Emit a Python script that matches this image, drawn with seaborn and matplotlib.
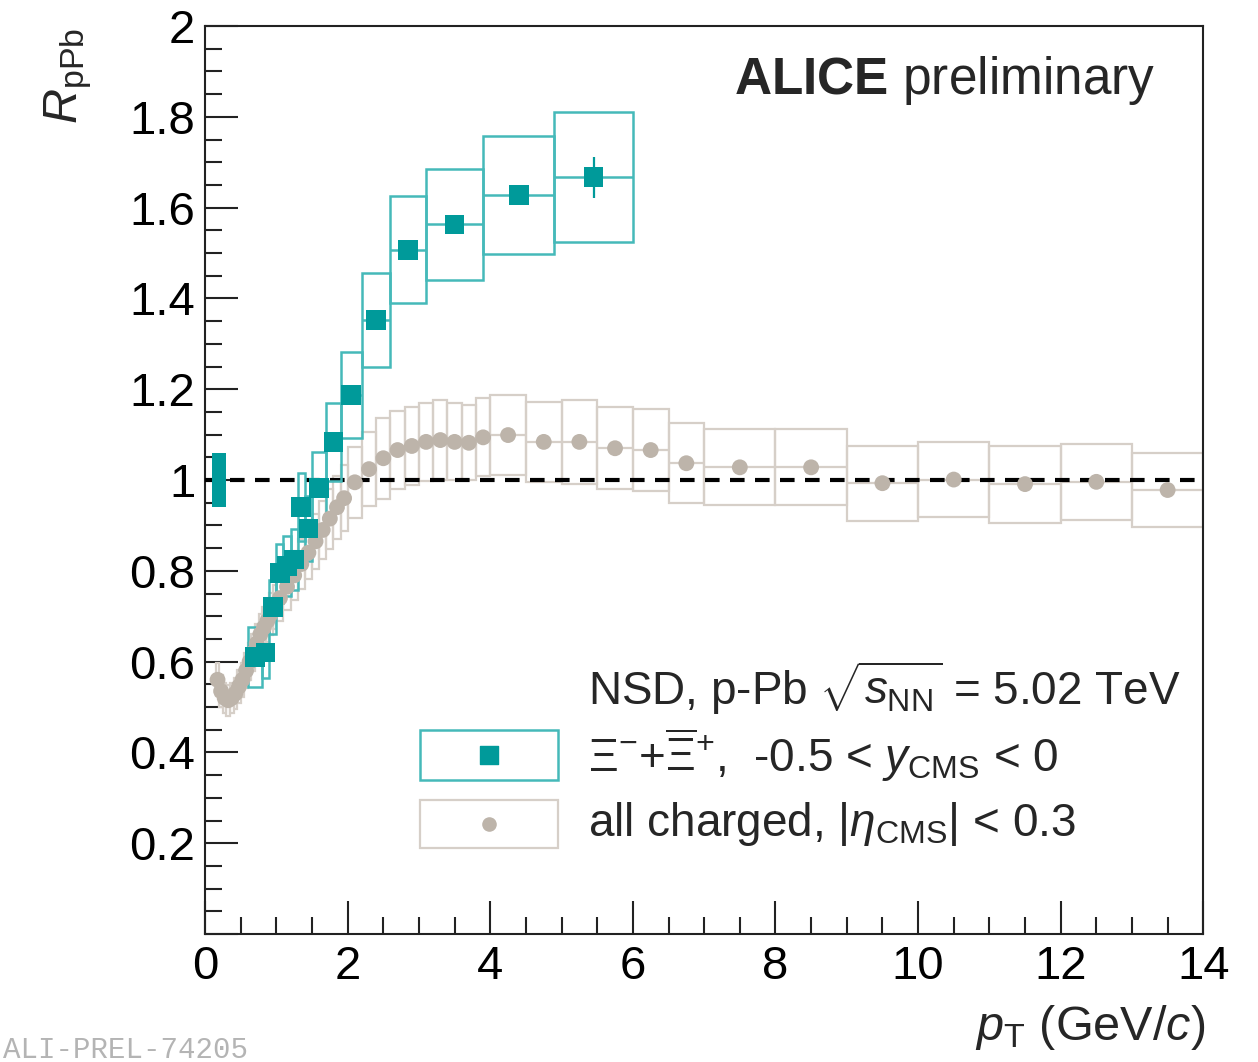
import numpy as np
import pandas as pd
import matplotlib
matplotlib.use("Agg")
import matplotlib.pyplot as plt
import seaborn as sns
from matplotlib.ticker import MultipleLocator, FixedLocator
from matplotlib.patches import Rectangle

# ---------------- data ----------------
# Xi^- + anti-Xi^+
xi_pt = [0.7, 0.85, 0.95, 1.05, 1.15, 1.25, 1.35, 1.45, 1.6, 1.8, 2.05, 2.4, 2.85, 3.5, 4.4, 5.45]
xi_width = [0.2, 0.1, 0.1, 0.1, 0.1, 0.1, 0.1, 0.1, 0.2, 0.2, 0.3, 0.4, 0.5, 0.8, 1.0, 1.1]
xi_r = [0.61, 0.62, 0.72, 0.795, 0.81, 0.825, 0.94, 0.893, 0.982, 1.084, 1.187, 1.352, 1.507, 1.563, 1.628, 1.667]
xi_stat = [0.02, 0.015, 0.015, 0.012, 0.012, 0.012, 0.012, 0.012, 0.012, 0.012, 0.012, 0.012, 0.014, 0.015, 0.02, 0.045]
xi_syst = [0.066, 0.055, 0.06, 0.065, 0.066, 0.067, 0.075, 0.072, 0.08, 0.086, 0.095, 0.104, 0.118, 0.122, 0.13, 0.143]

# all charged
ch_pt = [0.175, 0.225, 0.275, 0.325, 0.375, 0.425, 0.475, 0.525, 0.575, 0.625,
         0.675, 0.725, 0.775, 0.825, 0.875, 0.925, 0.975,
         1.05, 1.15, 1.25, 1.35, 1.45, 1.55, 1.65, 1.75, 1.85, 1.95,
         2.1, 2.3, 2.5, 2.7, 2.9, 3.1, 3.3, 3.5, 3.7, 3.9,
         4.25, 4.75, 5.25, 5.75, 6.25, 6.75,
         7.5, 8.5, 9.5, 10.5, 11.5, 12.5, 13.5]
ch_width = [0.05] * 17 + [0.1] * 10 + [0.2] * 10 + [0.5] * 6 + [1.0] * 7
ch_r = [0.56, 0.535, 0.52, 0.515, 0.52, 0.53, 0.545, 0.56, 0.58, 0.60,
        0.62, 0.64, 0.66, 0.675, 0.69, 0.705, 0.72,
        0.74, 0.765, 0.79, 0.815, 0.84, 0.865, 0.89, 0.915, 0.94, 0.96,
        0.995, 1.024, 1.048, 1.066, 1.075, 1.084, 1.088, 1.084, 1.082, 1.094,
        1.099, 1.084, 1.084, 1.07, 1.066, 1.037,
        1.028, 1.028, 0.993, 1.001, 0.991, 0.996, 0.978]
ch_syst = [0.036, 0.035, 0.034, 0.034, 0.034, 0.035, 0.036, 0.037, 0.038, 0.040,
           0.041, 0.042, 0.044, 0.045, 0.046, 0.047, 0.048,
           0.050, 0.052, 0.054, 0.056, 0.058, 0.060, 0.063, 0.066, 0.069, 0.072,
           0.078, 0.082, 0.089, 0.086, 0.086, 0.086, 0.088, 0.085, 0.083, 0.086,
           0.088, 0.088, 0.092, 0.090, 0.090, 0.088,
           0.084, 0.084, 0.083, 0.082, 0.085, 0.084, 0.082]

norm_pt = [0.2]
norm_width = [0.2]
norm_unc = [0.06]

x_ticks = [0, 2, 4, 6, 8, 10, 12, 14]
y_ticks = [0, 0.2, 0.4, 0.6, 0.8, 1.0, 1.2, 1.4, 1.6, 1.8, 2.0]
y_ticklabels = ["", "0.2", "0.4", "0.6", "0.8", "1", "1.2", "1.4", "1.6", "1.8", "2"]

# ---------------- style ----------------
sns.set_theme(style="ticks")
plt.rcParams["font.family"] = ["Liberation Sans", "DejaVu Sans"]
plt.rcParams["mathtext.fontset"] = "custom"
plt.rcParams["mathtext.rm"] = "Liberation Sans"
plt.rcParams["mathtext.it"] = "Liberation Sans:italic"
plt.rcParams["mathtext.bf"] = "Liberation Sans:bold"

TEAL = "#009a9a"
TEAL_BOX = "#45b9b9"
GREY = "#bdb4aa"
GREY_BOX = "#d6cfc8"

fig = plt.figure(figsize=(12.58, 10.62), dpi=100)
ax = fig.add_axes([0.163, 0.1205, 0.7935, 0.855])

df_xi = pd.DataFrame({"pt": xi_pt, "r": xi_r, "w": xi_width, "stat": xi_stat, "syst": xi_syst})
df_ch = pd.DataFrame({"pt": ch_pt, "r": ch_r, "w": ch_width, "syst": ch_syst})

# charged: syst boxes
ax.bar(df_ch["pt"], 2 * df_ch["syst"], width=df_ch["w"], bottom=df_ch["r"] - df_ch["syst"],
       fill=False, edgecolor=GREY_BOX, linewidth=1.6, zorder=2)
ax.errorbar(df_ch["pt"], df_ch["r"], xerr=df_ch["w"] / 2, fmt="none",
            ecolor=GREY_BOX, elinewidth=1.6, zorder=2)

# dashed unity line
ax.axhline(1.0, color="black", linestyle=(0, (3.5, 2.5)), linewidth=3.0, zorder=3)

# Xi: syst boxes
ax.bar(df_xi["pt"], 2 * df_xi["syst"], width=df_xi["w"], bottom=df_xi["r"] - df_xi["syst"],
       fill=False, edgecolor=TEAL_BOX, linewidth=1.8, zorder=4)
ax.errorbar(df_xi["pt"], df_xi["r"], xerr=df_xi["w"] / 2, fmt="none",
            ecolor=TEAL_BOX, elinewidth=1.8, zorder=4)
ax.errorbar(df_xi["pt"], df_xi["r"], yerr=df_xi["stat"], fmt="none",
            ecolor=TEAL, elinewidth=1.6, zorder=5)

# normalisation box
ax.bar(norm_pt, [2 * u for u in norm_unc], width=norm_width, bottom=[1 - u for u in norm_unc],
       color=TEAL, edgecolor="none", zorder=4)

# markers
sns.scatterplot(data=df_ch, x="pt", y="r", marker="o", s=130, color=GREY,
                edgecolor="none", linewidth=0, ax=ax, zorder=6, legend=False)
sns.scatterplot(data=df_xi, x="pt", y="r", marker="s", s=200, color=TEAL,
                edgecolor="none", linewidth=0, ax=ax, zorder=7, legend=False)

# axes
ax.set_xlim(0, 14)
ax.set_ylim(0, 2)
ax.set_xlabel("")
ax.set_ylabel("")
ax.xaxis.set_major_locator(FixedLocator(x_ticks))
ax.xaxis.set_minor_locator(MultipleLocator(0.5))
ax.yaxis.set_major_locator(FixedLocator(y_ticks))
ax.set_yticklabels(y_ticklabels)
ax.yaxis.set_minor_locator(MultipleLocator(0.05))
ax.tick_params(axis="both", which="major", direction="in", length=24, width=1.5,
               labelsize=34, colors="#222222", labelcolor="black")
ax.tick_params(axis="both", which="minor", direction="in", length=12, width=1.5, colors="#222222")
ax.tick_params(axis="x", which="major", pad=8)
ax.tick_params(axis="y", which="major", pad=7)
ax.tick_params(top=False, right=False, which="both")
for sp in ax.spines.values():
    sp.set_visible(True)
    sp.set_linewidth(1.5)
    sp.set_color("#222222")

# labels
fig.text(0.958, 0.021, r"$p_{\rm T}$ (GeV/$c$)", ha="right", va="baseline", fontsize=35)
fig.text(0.054, 0.974, r"$R_{\rm pPb}$", rotation=90, ha="center", va="top", fontsize=35)

ax.text(0.952, 0.9405, r"$\bf{ALICE}$ preliminary", transform=ax.transAxes,
        ha="right", va="center", fontsize=37)

# legend (manual, ROOT style)
ax.text(0.384, 0.271, r"NSD, p-Pb $\sqrt{s_{\rm NN}}$ = 5.02 TeV", transform=ax.transAxes,
        ha="left", va="center", fontsize=33)
ax.add_patch(Rectangle((0.215, 0.1696), 0.139, 0.0551, transform=ax.transAxes,
                       fill=False, edgecolor=TEAL_BOX, linewidth=1.8, zorder=8))
ax.scatter([0.2845], [0.197], marker="s", s=170, color=TEAL, transform=ax.transAxes, zorder=9)
ax.text(0.384, 0.197, r"$\Xi^{-}$+$\overline{\Xi}^{+}$,  -0.5 < $y_{\rm CMS}$ < 0",
        transform=ax.transAxes, ha="left", va="center", fontsize=33)
ax.add_patch(Rectangle((0.215, 0.0947), 0.139, 0.0529, transform=ax.transAxes,
                       fill=False, edgecolor=GREY_BOX, linewidth=1.6, zorder=8))
ax.scatter([0.2845], [0.121], marker="o", s=90, color=GREY, transform=ax.transAxes, zorder=9)
ax.text(0.384, 0.121, r"all charged, |$\eta_{\rm CMS}$| < 0.3",
        transform=ax.transAxes, ha="left", va="center", fontsize=33)

fig.text(0.002, 0.011, "ALI-PREL-74205", family=["Liberation Mono", "DejaVu Sans Mono"],
         fontsize=21, color="#b4b4b4", ha="left", va="center")

fig.savefig("out.png", dpi=100)
